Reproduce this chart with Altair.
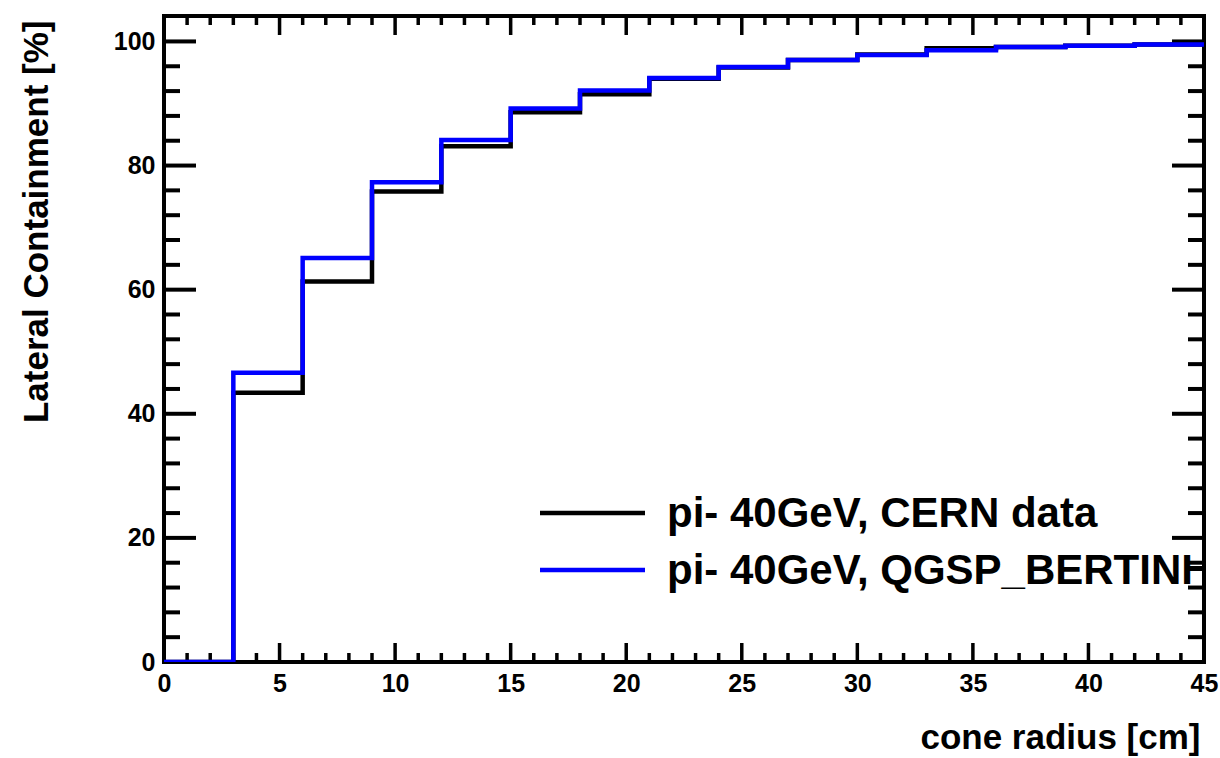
import altair as alt
import pandas as pd

# Bin edges of the cone radius [cm]
edges = [0, 3, 6, 9, 12, 15, 18, 21, 24, 27, 30, 33, 36, 39, 42, 45]
# Lateral containment [%] per bin (value of the bin starting at edges[i])
cern = [0, 43.4, 61.3, 75.8, 83.1, 88.6, 91.5, 94.0, 95.8, 97.0, 97.9, 98.9, 99.1, 99.3, 99.5]
qgsp = [0, 46.6, 65.1, 77.3, 84.1, 89.2, 92.1, 94.1, 95.9, 97.0, 97.8, 98.6, 99.1, 99.3, 99.5]
names = ["pi- 40GeV, CERN data", "pi- 40GeV, QGSP_BERTINHP"]
colors = ["#000000", "#0000ff"]

x_major = [0, 5, 10, 15, 20, 25, 30, 35, 40, 45]
x_minor = [v for v in range(0, 46) if v % 5 != 0]
y_major = [0, 20, 40, 60, 80, 100]
y_minor = [v for v in range(0, 104, 4) if v % 20 != 0]

W, H = 1040, 646
FONT = "Liberation Sans"
XDOM = [0, 45]
YDOM = [0, 104.1]


def step_df(vals):
    return pd.DataFrame({"r": edges, "v": list(vals) + [vals[-1]]})


xs = alt.Scale(domain=XDOM, nice=False, zero=False)
ys = alt.Scale(domain=YDOM, nice=False, zero=False)

frame = alt.Chart(pd.DataFrame({"a": [0]})).mark_rect(
    fill=None, stroke="black", strokeWidth=4
).encode(x=alt.value(0), x2=alt.value(W), y=alt.value(0), y2=alt.value(H))

line_black = alt.Chart(step_df(cern)).mark_line(
    interpolate="step-after", color=colors[0], strokeWidth=4.5, clip=True
).encode(
    x=alt.X("r:Q", scale=xs, title="cone radius [cm]",
            axis=alt.Axis(values=x_major, ticks=False, domain=False, grid=False,
                          labelPadding=9, labelFlush=False,
                          titleAnchor="end", titleAlign="right", titleX=W - 4,
                          titleY=86, titleBaseline="alphabetic")),
    y=alt.Y("v:Q", scale=ys, title="Lateral Containment [%]",
            axis=alt.Axis(values=y_major, ticks=False, domain=False, grid=False,
                          labelPadding=9, titleAnchor="end", titleAlign="right",
                          titleAngle=270, titleX=-117, titleY=4,
                          titleBaseline="alphabetic")),
)
line_blue = alt.Chart(step_df(qgsp)).mark_line(
    interpolate="step-after", color=colors[1], strokeWidth=4.5, clip=True
).encode(x=alt.X("r:Q", scale=xs), y=alt.Y("v:Q", scale=ys))


def xticks(vals, length):
    d = pd.DataFrame({"r": vals})
    bottom = alt.Chart(d).mark_rule(color="black", strokeWidth=3.5).encode(
        x=alt.X("r:Q", scale=xs), y=alt.value(H), y2=alt.value(H - length))
    top = alt.Chart(d).mark_rule(color="black", strokeWidth=3.5).encode(
        x=alt.X("r:Q", scale=xs), y=alt.value(0), y2=alt.value(length))
    return [bottom, top]


def yticks(vals, length):
    d = pd.DataFrame({"v": vals})
    left = alt.Chart(d).mark_rule(color="black", strokeWidth=4).encode(
        y=alt.Y("v:Q", scale=ys), x=alt.value(0), x2=alt.value(length))
    right = alt.Chart(d).mark_rule(color="black", strokeWidth=4).encode(
        y=alt.Y("v:Q", scale=ys), x=alt.value(W), x2=alt.value(W - length))
    return [left, right]


tick_layers = xticks(x_major, 19) + xticks(x_minor, 9) + yticks(y_major, 32) + yticks(y_minor, 16)

leg_y = [497, 554]
legend_layers = []
for i in range(len(names)):
    d = pd.DataFrame({"name": [names[i]]})
    legend_layers.append(
        alt.Chart(d).mark_rule(strokeWidth=4.5, color=colors[i]).encode(
            x=alt.value(376), x2=alt.value(481), y=alt.value(leg_y[i]))
    )
    legend_layers.append(
        alt.Chart(d).mark_text(
            align="left", baseline="middle", font=FONT, fontWeight="bold",
            fontSize=42, color="black", clip=True
        ).encode(x=alt.value(503), y=alt.value(leg_y[i] + 1), text="name:N")
    )

chart = alt.layer(
    line_black, frame, *tick_layers, line_blue, *legend_layers
).properties(
    width=W, height=H,
    padding={"left": 164, "top": 16, "right": 16, "bottom": 96},
    autosize=alt.AutoSizeParams(type="none"),
    background="white",
).configure_view(stroke=None).configure_axis(
    labelFont=FONT, labelFontWeight="bold", labelFontSize=25, labelColor="black",
    titleFont=FONT, titleFontWeight="bold", titleFontSize=35, titleColor="black",
)

chart.save("out.html", embed_options={"renderer": "svg", "actions": False})
